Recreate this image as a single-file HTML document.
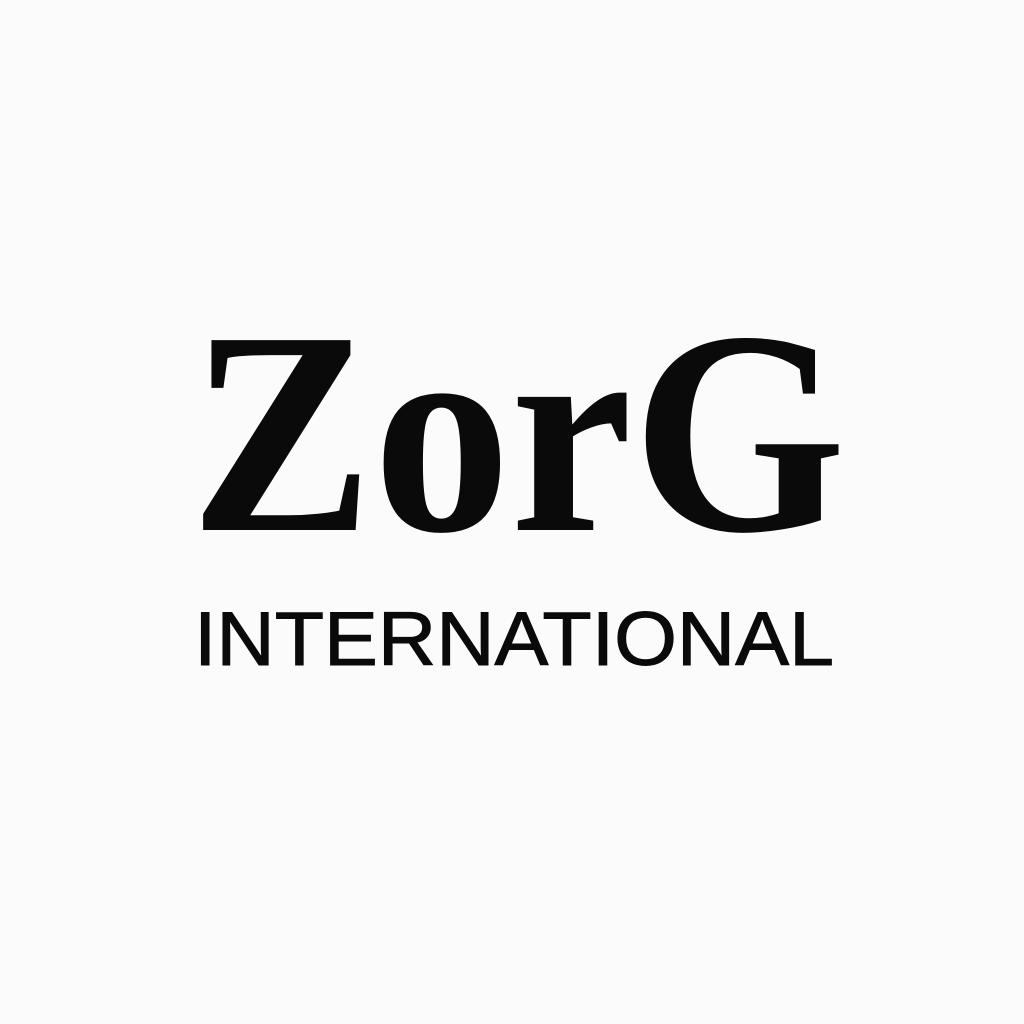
<!DOCTYPE html>
<html>
<head>
<meta charset="utf-8">
<style>
  html, body { margin:0; padding:0; background:#fbfbfb; }
  body { width:1024px; height:1024px; overflow:hidden; }
  svg { display:block; }
</style>
</head>
<body>
<svg width="1024" height="1024" viewBox="0 0 1024 1024">
  <rect x="0" y="0" width="1024" height="1024" fill="#fbfbfb"/>
  <text x="190" y="530" font-family="'Liberation Serif', serif" font-weight="bold" font-size="290" fill="#0a0a0a" textLength="656" lengthAdjust="spacingAndGlyphs">ZorG</text>
  <text x="194" y="665" font-family="'Liberation Sans', sans-serif" font-size="76" fill="#0a0a0a" stroke="#0a0a0a" stroke-width="1" textLength="640" lengthAdjust="spacingAndGlyphs">INTERNATIONAL</text>
</svg>
</body>
</html>
